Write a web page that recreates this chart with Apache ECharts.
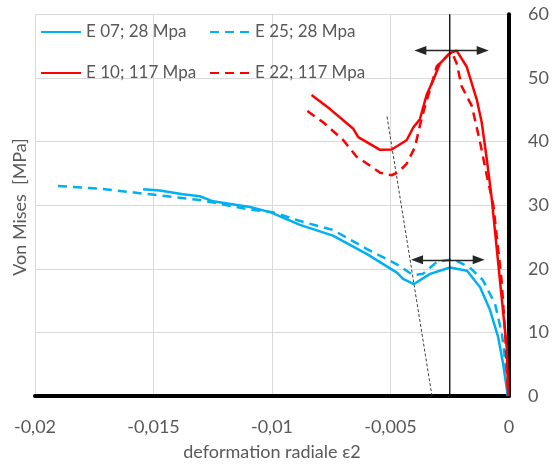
<!DOCTYPE html>
<html>
<head>
<meta charset="utf-8">
<script src="https://cdn.jsdelivr.net/npm/echarts@6/dist/echarts.min.js"></script>
<style>html,body{margin:0;padding:0;background:#fff;}#c{width:553px;height:466px;}</style>
</head>
<body>
<div id="c"></div>
<script>
// ---- data (x = deformation radiale ε2, y = Von Mises MPa) ----
var e07 = [[-0.01544,32.5],[-0.01473,32.3],[-0.01376,31.7],[-0.01304,31.4],[-0.01249,30.6],[-0.01093,29.7],[-0.01008,28.9],[-0.00882,26.9],[-0.00743,25.2],[-0.00599,22.3],[-0.00473,19.4],[-0.00447,18.4],[-0.00401,17.6],[-0.00333,19.2],[-0.00249,20.2],[-0.00177,19.7],[-0.00122,17.1],[-0.00080,13.5],[-0.00046,9.3],[-0.00025,5.1],[-0.00005,0]];
var e25 = [[-0.01903,33.0],[-0.01726,32.6],[-0.01515,31.7],[-0.01304,30.8],[-0.01093,29.3],[-0.00996,28.9],[-0.00882,27.5],[-0.00743,26.1],[-0.00599,23.1],[-0.00473,20.7],[-0.00405,19.0],[-0.00363,19.2],[-0.00304,21.1],[-0.00236,21.5],[-0.00165,20.2],[-0.00110,18.2],[-0.00059,14.5],[-0.00030,9.8],[-0.00017,5.8],[-0.00005,0]];
var e10 = [[-0.00833,47.3],[-0.00755,45.1],[-0.00657,42.0],[-0.00636,40.7],[-0.00544,38.7],[-0.00495,38.75],[-0.00432,40.2],[-0.00404,42.2],[-0.00376,43.5],[-0.00347,47.4],[-0.00319,49.7],[-0.00291,52.3],[-0.00249,53.9],[-0.00221,54.3],[-0.00179,51.8],[-0.00136,46.6],[-0.00115,43.0],[-0.00094,37.3],[-0.00073,31.1],[-0.00052,23.3],[-0.00031,15.5],[-0.00010,7.8],[-0.00003,0]];
var e22 = [[-0.00851,44.8],[-0.00783,43.0],[-0.00699,40.2],[-0.00643,37.6],[-0.00586,36.2],[-0.00544,35.1],[-0.00495,34.7],[-0.00467,35.2],[-0.00432,36.5],[-0.00397,39.1],[-0.00376,42.5],[-0.00354,45.6],[-0.00333,48.2],[-0.00305,51.8],[-0.00263,53.4],[-0.00242,54.1],[-0.00221,52.3],[-0.00200,48.7],[-0.00157,45.6],[-0.00122,39.9],[-0.00094,34.7],[-0.00066,30.0],[-0.00031,18.1],[-0.00017,10.4],[-0.00003,0]];
var seriesNames = ['E 07; 28 Mpa','E 25; 28 Mpa','E 10; 117 Mpa','E 22; 117 Mpa'];
var verticalLineX = -0.0025;
var tangentLine = [[-0.00325,0],[-0.00515,44.0]];
var redArrow = [[-0.00374,54.3],[-0.00111,54.3]];
var blueArrow = [[-0.00388,21.4],[-0.00128,21.4]];
var xTickLabels = ['-0,02','-0,015','-0,01','-0,005','0'];
var yTickLabels = ['0','10','20','30','40','50','60'];
var xTitle = 'deformation radiale ε2';
var yTitle = 'Von Mises  [MPa]';

var FONT = 'Lato';
var TXT = '#595959';
var BLUE = '#00B0F0';
var RED = '#FF0000';

var chart = echarts.init(document.getElementById('c'), null, {renderer:'canvas'});

function legendAt(name, left, top){
  return {
    data:[name], left:left, top:top, padding:0, itemWidth:40, itemHeight:14, itemGap:0,
    itemStyle:{opacity:0},
    textStyle:{fontFamily:FONT, fontSize:17, color:TXT, lineHeight:18},
    selectedMode:false
  };
}

var option = {
  animation:false,
  backgroundColor:'#ffffff',
  grid:{left:35, right:44, top:14.3, bottom:66, containLabel:false},
  legend:[
    legendAt(seriesNames[0],40,23),
    legendAt(seriesNames[1],209,23),
    legendAt(seriesNames[2],40,64),
    legendAt(seriesNames[3],209,64)
  ],
  xAxis:{
    type:'value', min:-0.02, max:0, interval:0.005,
    name:xTitle, nameLocation:'middle', nameGap:47,
    nameTextStyle:{fontFamily:FONT, fontSize:18, color:TXT, lineHeight:18},
    axisLine:{show:true, onZero:false, lineStyle:{color:'#000', width:4}},
    axisTick:{show:false},
    axisLabel:{margin:22, fontFamily:FONT, fontSize:18, color:TXT, lineHeight:18,
      formatter:function(v){ var i=Math.round((v+0.02)/0.005); return xTickLabels[i]; }},
    splitLine:{show:true, lineStyle:{color:'#d9d9d9', width:1}}
  },
  yAxis:{
    type:'value', position:'right', min:0, max:60, interval:10,
    axisLine:{show:true, onZero:false, lineStyle:{color:'#000', width:4}},
    axisTick:{show:false},
    axisLabel:{margin:19, fontFamily:FONT, fontSize:18, color:TXT, lineHeight:18,
      formatter:function(v){ return yTickLabels[Math.round(v/10)]; }},
    splitLine:{show:true, lineStyle:{color:'#d9d9d9', width:1}}
  },
  graphic:[{
    type:'text', x:20, y:207, rotation:Math.PI/2,
    style:{text:yTitle, fontFamily:FONT, fontSize:18, fill:TXT, textAlign:'center', textVerticalAlign:'middle'}
  }],
  series:[
    {name:seriesNames[0], type:'line', data:e07, symbol:'none', lineStyle:{color:BLUE, width:2.5}, itemStyle:{color:BLUE}, z:3},
    {name:seriesNames[1], type:'line', data:e25, symbol:'none', lineStyle:{color:BLUE, width:2.5, type:[9,6]}, itemStyle:{color:BLUE}, z:3},
    {name:seriesNames[2], type:'line', data:e10, symbol:'none', lineStyle:{color:RED, width:2.5}, itemStyle:{color:RED}, z:4},
    {name:seriesNames[3], type:'line', data:e22, symbol:'none', lineStyle:{color:RED, width:2.5, type:[9,6]}, itemStyle:{color:RED}, z:4},
    {name:'tangent', type:'line', data:tangentLine, symbol:'none', silent:true,
      lineStyle:{color:'#404040', width:1, type:[3,2]}, z:2},
    {name:'vline', type:'line', data:[[verticalLineX,0],[verticalLineX,60]], symbol:'none', silent:true,
      lineStyle:{color:'#000', width:1.3}, z:5,
      markLine:{
        silent:true, symbol:['triangle','triangle'], symbolSize:[9,12],
        label:{show:false}, lineStyle:{color:'#262626', width:1.3, type:'solid'},
        data:[
          [{coord:redArrow[0]},{coord:redArrow[1]}],
          [{coord:blueArrow[0]},{coord:blueArrow[1]}]
        ]
      }}
  ]
};
chart.setOption(option);
</script>
</body>
</html>
